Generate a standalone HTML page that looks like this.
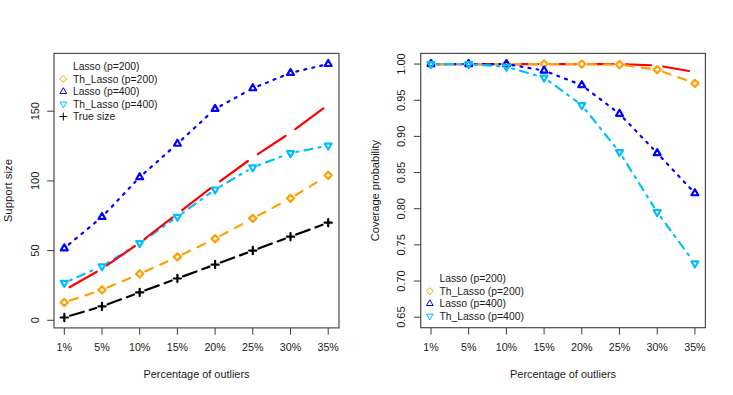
<!DOCTYPE html>
<html><head><meta charset="utf-8"><title>plot</title>
<style>
html,body{margin:0;padding:0;background:#fff;}
body{width:733px;height:395px;overflow:hidden;}
svg{display:block;font-family:"Liberation Sans",sans-serif;fill:#1a1a1a;}
</style></head><body>
<svg width="733" height="395" viewBox="0 0 733 395">
<rect width="733" height="395" fill="#ffffff"/>
<line x1="69.99" y1="300.56" x2="96.31" y2="291.81" stroke="#ffa000" stroke-width="2.2" stroke-linecap="round" stroke-dasharray="8.20,8.20"/>
<line x1="107.52" y1="287.56" x2="134.18" y2="276.23" stroke="#ffa000" stroke-width="2.2" stroke-linecap="round" stroke-dasharray="8.20,8.20"/>
<line x1="145.17" y1="271.41" x2="171.93" y2="259.34" stroke="#ffa000" stroke-width="2.2" stroke-linecap="round" stroke-dasharray="8.20,8.20"/>
<line x1="182.81" y1="254.27" x2="209.69" y2="241.35" stroke="#ffa000" stroke-width="2.2" stroke-linecap="round" stroke-dasharray="8.20,8.20"/>
<line x1="220.38" y1="235.90" x2="247.52" y2="221.25" stroke="#ffa000" stroke-width="2.2" stroke-linecap="round" stroke-dasharray="8.20,8.20"/>
<line x1="258.10" y1="215.58" x2="285.20" y2="201.14" stroke="#ffa000" stroke-width="2.2" stroke-linecap="round" stroke-dasharray="8.20,8.20"/>
<line x1="295.62" y1="195.20" x2="323.08" y2="178.45" stroke="#ffa000" stroke-width="2.2" stroke-linecap="round" stroke-dasharray="8.20,8.20"/>
<polygon points="60.67,302.46 64.30,306.09 67.93,302.46 64.30,298.82" fill="none" stroke="#ffa000" stroke-width="2.2" stroke-linejoin="round"/>
<polygon points="98.37,289.91 102.00,293.54 105.63,289.91 102.00,286.28" fill="none" stroke="#ffa000" stroke-width="2.2" stroke-linejoin="round"/>
<polygon points="136.07,273.88 139.70,277.51 143.33,273.88 139.70,270.25" fill="none" stroke="#ffa000" stroke-width="2.2" stroke-linejoin="round"/>
<polygon points="173.77,256.87 177.40,260.51 181.03,256.87 177.40,253.24" fill="none" stroke="#ffa000" stroke-width="2.2" stroke-linejoin="round"/>
<polygon points="211.47,238.75 215.10,242.38 218.73,238.75 215.10,235.12" fill="none" stroke="#ffa000" stroke-width="2.2" stroke-linejoin="round"/>
<polygon points="249.17,218.40 252.80,222.03 256.43,218.40 252.80,214.77" fill="none" stroke="#ffa000" stroke-width="2.2" stroke-linejoin="round"/>
<polygon points="286.87,198.33 290.50,201.96 294.13,198.33 290.50,194.69" fill="none" stroke="#ffa000" stroke-width="2.2" stroke-linejoin="round"/>
<polygon points="324.57,175.32 328.20,178.96 331.83,175.32 328.20,171.69" fill="none" stroke="#ffa000" stroke-width="2.2" stroke-linejoin="round"/>
<line x1="68.91" y1="244.46" x2="97.39" y2="220.77" stroke="#0000ff" stroke-width="2.2" stroke-linecap="round" stroke-dasharray="2.05,6.15"/>
<line x1="106.13" y1="212.58" x2="135.57" y2="181.56" stroke="#0000ff" stroke-width="2.2" stroke-linecap="round" stroke-dasharray="2.05,6.15"/>
<line x1="144.19" y1="173.22" x2="172.91" y2="147.73" stroke="#0000ff" stroke-width="2.2" stroke-linecap="round" stroke-dasharray="2.05,6.15"/>
<line x1="181.81" y1="139.68" x2="210.69" y2="112.97" stroke="#0000ff" stroke-width="2.2" stroke-linecap="round" stroke-dasharray="2.05,6.15"/>
<line x1="220.36" y1="106.02" x2="247.54" y2="91.15" stroke="#0000ff" stroke-width="2.2" stroke-linecap="round" stroke-dasharray="2.05,6.15"/>
<line x1="258.36" y1="86.01" x2="284.94" y2="75.20" stroke="#0000ff" stroke-width="2.2" stroke-linecap="round" stroke-dasharray="2.05,6.15"/>
<line x1="296.34" y1="71.55" x2="322.36" y2="65.39" stroke="#0000ff" stroke-width="2.2" stroke-linecap="round" stroke-dasharray="2.05,6.15"/>
<polygon points="64.30,244.31 67.76,250.30 60.84,250.30" fill="none" stroke="#0000ff" stroke-width="2.2" stroke-linejoin="round"/>
<polygon points="102.00,212.94 105.46,218.93 98.54,218.93" fill="none" stroke="#0000ff" stroke-width="2.2" stroke-linejoin="round"/>
<polygon points="139.70,173.21 143.16,179.20 136.24,179.20" fill="none" stroke="#0000ff" stroke-width="2.2" stroke-linejoin="round"/>
<polygon points="177.40,139.76 180.86,145.75 173.94,145.75" fill="none" stroke="#0000ff" stroke-width="2.2" stroke-linejoin="round"/>
<polygon points="215.10,104.91 218.56,110.90 211.64,110.90" fill="none" stroke="#0000ff" stroke-width="2.2" stroke-linejoin="round"/>
<polygon points="252.80,84.27 256.26,90.27 249.34,90.27" fill="none" stroke="#0000ff" stroke-width="2.2" stroke-linejoin="round"/>
<polygon points="290.50,68.94 293.96,74.93 287.04,74.93" fill="none" stroke="#0000ff" stroke-width="2.2" stroke-linejoin="round"/>
<polygon points="328.20,60.02 331.66,66.01 324.74,66.01" fill="none" stroke="#0000ff" stroke-width="2.2" stroke-linejoin="round"/>
<line x1="69.79" y1="280.45" x2="96.51" y2="268.70" stroke="#00bfff" stroke-width="2.2" stroke-linecap="round" stroke-dasharray="2.05,6.15,8.20,6.15"/>
<line x1="107.11" y1="263.14" x2="134.59" y2="246.28" stroke="#00bfff" stroke-width="2.2" stroke-linecap="round" stroke-dasharray="2.05,6.15,8.20,6.15"/>
<line x1="144.62" y1="239.71" x2="172.48" y2="220.23" stroke="#00bfff" stroke-width="2.2" stroke-linecap="round" stroke-dasharray="2.05,6.15,8.20,6.15"/>
<line x1="182.26" y1="213.27" x2="210.24" y2="192.99" stroke="#00bfff" stroke-width="2.2" stroke-linecap="round" stroke-dasharray="2.05,6.15,8.20,6.15"/>
<line x1="220.28" y1="186.45" x2="247.62" y2="170.47" stroke="#00bfff" stroke-width="2.2" stroke-linecap="round" stroke-dasharray="2.05,6.15,8.20,6.15"/>
<line x1="258.41" y1="165.31" x2="284.89" y2="155.23" stroke="#00bfff" stroke-width="2.2" stroke-linecap="round" stroke-dasharray="2.05,6.15,8.20,6.15"/>
<line x1="296.38" y1="151.91" x2="322.32" y2="146.74" stroke="#00bfff" stroke-width="2.2" stroke-linecap="round" stroke-dasharray="2.05,6.15,8.20,6.15"/>
<polygon points="64.30,286.87 67.76,280.87 60.84,280.87" fill="none" stroke="#00bfff" stroke-width="2.2" stroke-linejoin="round"/>
<polygon points="102.00,270.28 105.46,264.29 98.54,264.29" fill="none" stroke="#00bfff" stroke-width="2.2" stroke-linejoin="round"/>
<polygon points="139.70,247.14 143.16,241.14 136.24,241.14" fill="none" stroke="#00bfff" stroke-width="2.2" stroke-linejoin="round"/>
<polygon points="177.40,220.79 180.86,214.80 173.94,214.80" fill="none" stroke="#00bfff" stroke-width="2.2" stroke-linejoin="round"/>
<polygon points="215.10,193.47 218.56,187.48 211.64,187.48" fill="none" stroke="#00bfff" stroke-width="2.2" stroke-linejoin="round"/>
<polygon points="252.80,171.44 256.26,165.45 249.34,165.45" fill="none" stroke="#00bfff" stroke-width="2.2" stroke-linejoin="round"/>
<polygon points="290.50,157.08 293.96,151.09 287.04,151.09" fill="none" stroke="#00bfff" stroke-width="2.2" stroke-linejoin="round"/>
<polygon points="328.20,149.56 331.66,143.56 324.74,143.56" fill="none" stroke="#00bfff" stroke-width="2.2" stroke-linejoin="round"/>
<line x1="69.51" y1="287.22" x2="96.79" y2="271.69" stroke="#ff0000" stroke-width="2.2" stroke-linecap="round"/>
<line x1="106.94" y1="265.31" x2="134.76" y2="246.07" stroke="#ff0000" stroke-width="2.2" stroke-linecap="round"/>
<line x1="144.46" y1="239.00" x2="172.64" y2="217.32" stroke="#ff0000" stroke-width="2.2" stroke-linecap="round"/>
<line x1="182.16" y1="210.01" x2="210.34" y2="188.45" stroke="#ff0000" stroke-width="2.2" stroke-linecap="round"/>
<line x1="219.96" y1="181.28" x2="247.94" y2="161.00" stroke="#ff0000" stroke-width="2.2" stroke-linecap="round"/>
<line x1="257.81" y1="154.18" x2="285.49" y2="135.97" stroke="#ff0000" stroke-width="2.2" stroke-linecap="round"/>
<line x1="295.33" y1="129.11" x2="323.37" y2="108.48" stroke="#ff0000" stroke-width="2.2" stroke-linecap="round"/>
<line x1="70.05" y1="315.81" x2="96.25" y2="308.06" stroke="#000000" stroke-width="2.2" stroke-linecap="round" stroke-dasharray="14.35,6.15"/>
<line x1="107.63" y1="304.28" x2="134.07" y2="294.50" stroke="#000000" stroke-width="2.2" stroke-linecap="round" stroke-dasharray="14.35,6.15"/>
<line x1="145.33" y1="290.34" x2="171.77" y2="280.56" stroke="#000000" stroke-width="2.2" stroke-linecap="round" stroke-dasharray="14.35,6.15"/>
<line x1="183.03" y1="276.40" x2="209.47" y2="266.62" stroke="#000000" stroke-width="2.2" stroke-linecap="round" stroke-dasharray="14.35,6.15"/>
<line x1="220.73" y1="262.46" x2="247.17" y2="252.68" stroke="#000000" stroke-width="2.2" stroke-linecap="round" stroke-dasharray="14.35,6.15"/>
<line x1="258.43" y1="248.52" x2="284.87" y2="238.74" stroke="#000000" stroke-width="2.2" stroke-linecap="round" stroke-dasharray="14.35,6.15"/>
<line x1="296.13" y1="234.58" x2="322.57" y2="224.80" stroke="#000000" stroke-width="2.2" stroke-linecap="round" stroke-dasharray="14.35,6.15"/>
<path d="M60.67,317.51H67.93M64.30,313.88V321.14" fill="none" stroke="#000000" stroke-width="2.2" stroke-linecap="round"/>
<path d="M98.37,306.36H105.63M102.00,302.73V309.99" fill="none" stroke="#000000" stroke-width="2.2" stroke-linecap="round"/>
<path d="M136.07,292.42H143.33M139.70,288.79V296.05" fill="none" stroke="#000000" stroke-width="2.2" stroke-linecap="round"/>
<path d="M173.77,278.48H181.03M177.40,274.85V282.11" fill="none" stroke="#000000" stroke-width="2.2" stroke-linecap="round"/>
<path d="M211.47,264.54H218.73M215.10,260.91V268.17" fill="none" stroke="#000000" stroke-width="2.2" stroke-linecap="round"/>
<path d="M249.17,250.60H256.43M252.80,246.97V254.23" fill="none" stroke="#000000" stroke-width="2.2" stroke-linecap="round"/>
<path d="M286.87,236.66H294.13M290.50,233.03V240.29" fill="none" stroke="#000000" stroke-width="2.2" stroke-linecap="round"/>
<path d="M324.57,222.72H331.83M328.20,219.09V226.35" fill="none" stroke="#000000" stroke-width="2.2" stroke-linecap="round"/>
<rect x="54.00" y="53.40" width="285.00" height="274.50" fill="none" stroke="#4a4a4a" stroke-width="1.2"/>
<line x1="64.30" y1="327.90" x2="64.30" y2="334.70" stroke="#3a3a3a" stroke-width="1"/>
<text x="64.30" y="351.30" font-size="10.7" text-anchor="middle">1%</text>
<line x1="102.00" y1="327.90" x2="102.00" y2="334.70" stroke="#3a3a3a" stroke-width="1"/>
<text x="102.00" y="351.30" font-size="10.7" text-anchor="middle">5%</text>
<line x1="139.70" y1="327.90" x2="139.70" y2="334.70" stroke="#3a3a3a" stroke-width="1"/>
<text x="139.70" y="351.30" font-size="10.7" text-anchor="middle">10%</text>
<line x1="177.40" y1="327.90" x2="177.40" y2="334.70" stroke="#3a3a3a" stroke-width="1"/>
<text x="177.40" y="351.30" font-size="10.7" text-anchor="middle">15%</text>
<line x1="215.10" y1="327.90" x2="215.10" y2="334.70" stroke="#3a3a3a" stroke-width="1"/>
<text x="215.10" y="351.30" font-size="10.7" text-anchor="middle">20%</text>
<line x1="252.80" y1="327.90" x2="252.80" y2="334.70" stroke="#3a3a3a" stroke-width="1"/>
<text x="252.80" y="351.30" font-size="10.7" text-anchor="middle">25%</text>
<line x1="290.50" y1="327.90" x2="290.50" y2="334.70" stroke="#3a3a3a" stroke-width="1"/>
<text x="290.50" y="351.30" font-size="10.7" text-anchor="middle">30%</text>
<line x1="328.20" y1="327.90" x2="328.20" y2="334.70" stroke="#3a3a3a" stroke-width="1"/>
<text x="328.20" y="351.30" font-size="10.7" text-anchor="middle">35%</text>
<line x1="47.20" y1="320.30" x2="54.00" y2="320.30" stroke="#3a3a3a" stroke-width="1"/>
<text transform="translate(38.60,320.30) rotate(-90)" font-size="10.97" text-anchor="middle">0</text>
<line x1="47.20" y1="250.60" x2="54.00" y2="250.60" stroke="#3a3a3a" stroke-width="1"/>
<text transform="translate(38.60,250.60) rotate(-90)" font-size="10.97" text-anchor="middle">50</text>
<line x1="47.20" y1="180.90" x2="54.00" y2="180.90" stroke="#3a3a3a" stroke-width="1"/>
<text transform="translate(38.60,180.90) rotate(-90)" font-size="10.97" text-anchor="middle">100</text>
<line x1="47.20" y1="111.20" x2="54.00" y2="111.20" stroke="#3a3a3a" stroke-width="1"/>
<text transform="translate(38.60,111.20) rotate(-90)" font-size="10.97" text-anchor="middle">150</text>
<text x="196.50" y="377.6" font-size="10.9" text-anchor="middle">Percentage of outliers</text>
<text transform="translate(12.4,190.65) rotate(-90)" font-size="11.4" text-anchor="middle">Support size</text>
<text x="72.90" y="70.00" font-size="10.38">Lasso (p=200)</text>
<polygon points="59.80,79.02 63.30,82.52 66.80,79.02 63.30,75.52" fill="none" stroke="#ffa000" stroke-width="1.0" stroke-linejoin="round"/>
<text x="72.90" y="82.52" font-size="10.38">Th_Lasso (p=200)</text>
<polygon points="63.30,87.69 66.63,93.46 59.97,93.46" fill="none" stroke="#0000ff" stroke-width="1.0" stroke-linejoin="round"/>
<text x="72.90" y="95.04" font-size="10.38">Lasso (p=400)</text>
<polygon points="63.30,107.91 66.63,102.14 59.97,102.14" fill="none" stroke="#00bfff" stroke-width="1.0" stroke-linejoin="round"/>
<text x="72.90" y="107.56" font-size="10.38">Th_Lasso (p=400)</text>
<path d="M59.80,116.58H66.80M63.30,113.08V120.08" fill="none" stroke="#000000" stroke-width="1.0" stroke-linecap="round"/>
<text x="72.90" y="120.08" font-size="10.38">True size</text>
<line x1="437.00" y1="64.05" x2="462.70" y2="64.05" stroke="#ff0000" stroke-width="2.2" stroke-linecap="round"/>
<line x1="474.70" y1="64.05" x2="500.40" y2="64.05" stroke="#ff0000" stroke-width="2.2" stroke-linecap="round"/>
<line x1="512.40" y1="64.05" x2="538.10" y2="64.05" stroke="#ff0000" stroke-width="2.2" stroke-linecap="round"/>
<line x1="550.10" y1="64.05" x2="575.80" y2="64.05" stroke="#ff0000" stroke-width="2.2" stroke-linecap="round"/>
<line x1="587.80" y1="64.05" x2="613.50" y2="64.05" stroke="#ff0000" stroke-width="2.2" stroke-linecap="round"/>
<line x1="625.50" y1="64.28" x2="651.20" y2="65.27" stroke="#ff0000" stroke-width="2.2" stroke-linecap="round"/>
<line x1="663.11" y1="66.52" x2="688.99" y2="70.99" stroke="#ff0000" stroke-width="2.2" stroke-linecap="round"/>
<line x1="437.00" y1="64.05" x2="462.70" y2="64.05" stroke="#ffa000" stroke-width="2.2" stroke-linecap="round" stroke-dasharray="8.20,8.20"/>
<line x1="474.70" y1="64.05" x2="500.40" y2="64.05" stroke="#ffa000" stroke-width="2.2" stroke-linecap="round" stroke-dasharray="8.20,8.20"/>
<line x1="512.40" y1="64.05" x2="538.10" y2="64.05" stroke="#ffa000" stroke-width="2.2" stroke-linecap="round" stroke-dasharray="8.20,8.20"/>
<line x1="550.10" y1="64.05" x2="575.80" y2="64.05" stroke="#ffa000" stroke-width="2.2" stroke-linecap="round" stroke-dasharray="8.20,8.20"/>
<line x1="587.80" y1="64.14" x2="613.50" y2="64.54" stroke="#ffa000" stroke-width="2.2" stroke-linecap="round" stroke-dasharray="8.20,8.20"/>
<line x1="625.45" y1="65.42" x2="651.25" y2="68.83" stroke="#ffa000" stroke-width="2.2" stroke-linecap="round" stroke-dasharray="8.20,8.20"/>
<line x1="662.84" y1="71.66" x2="689.26" y2="81.24" stroke="#ffa000" stroke-width="2.2" stroke-linecap="round" stroke-dasharray="8.20,8.20"/>
<polygon points="427.37,64.05 431.00,67.68 434.63,64.05 431.00,60.42" fill="none" stroke="#ffa000" stroke-width="2.2" stroke-linejoin="round"/>
<polygon points="465.07,64.05 468.70,67.68 472.33,64.05 468.70,60.42" fill="none" stroke="#ffa000" stroke-width="2.2" stroke-linejoin="round"/>
<polygon points="502.77,64.05 506.40,67.68 510.03,64.05 506.40,60.42" fill="none" stroke="#ffa000" stroke-width="2.2" stroke-linejoin="round"/>
<polygon points="540.47,64.05 544.10,67.68 547.73,64.05 544.10,60.42" fill="none" stroke="#ffa000" stroke-width="2.2" stroke-linejoin="round"/>
<polygon points="578.17,64.05 581.80,67.68 585.43,64.05 581.80,60.42" fill="none" stroke="#ffa000" stroke-width="2.2" stroke-linejoin="round"/>
<polygon points="615.87,64.63 619.50,68.26 623.13,64.63 619.50,61.00" fill="none" stroke="#ffa000" stroke-width="2.2" stroke-linejoin="round"/>
<polygon points="653.57,69.62 657.20,73.25 660.83,69.62 657.20,65.99" fill="none" stroke="#ffa000" stroke-width="2.2" stroke-linejoin="round"/>
<polygon points="691.27,83.29 694.90,86.92 698.53,83.29 694.90,79.66" fill="none" stroke="#ffa000" stroke-width="2.2" stroke-linejoin="round"/>
<line x1="437.00" y1="64.05" x2="462.70" y2="64.05" stroke="#0000ff" stroke-width="2.2" stroke-linecap="round" stroke-dasharray="2.05,6.15"/>
<line x1="474.70" y1="64.05" x2="500.40" y2="64.05" stroke="#0000ff" stroke-width="2.2" stroke-linecap="round" stroke-dasharray="2.05,6.15"/>
<line x1="512.31" y1="65.07" x2="538.19" y2="69.54" stroke="#0000ff" stroke-width="2.2" stroke-linecap="round" stroke-dasharray="2.05,6.15"/>
<line x1="549.69" y1="72.73" x2="576.21" y2="83.00" stroke="#0000ff" stroke-width="2.2" stroke-linecap="round" stroke-dasharray="2.05,6.15"/>
<line x1="586.58" y1="88.80" x2="614.72" y2="110.18" stroke="#0000ff" stroke-width="2.2" stroke-linecap="round" stroke-dasharray="2.05,6.15"/>
<line x1="623.65" y1="118.15" x2="653.05" y2="148.83" stroke="#0000ff" stroke-width="2.2" stroke-linecap="round" stroke-dasharray="2.05,6.15"/>
<line x1="661.31" y1="157.53" x2="690.79" y2="188.86" stroke="#0000ff" stroke-width="2.2" stroke-linecap="round" stroke-dasharray="2.05,6.15"/>
<polygon points="431.00,60.06 434.46,66.05 427.54,66.05" fill="none" stroke="#0000ff" stroke-width="2.2" stroke-linejoin="round"/>
<polygon points="468.70,60.06 472.16,66.05 465.24,66.05" fill="none" stroke="#0000ff" stroke-width="2.2" stroke-linejoin="round"/>
<polygon points="506.40,60.06 509.86,66.05 502.94,66.05" fill="none" stroke="#0000ff" stroke-width="2.2" stroke-linejoin="round"/>
<polygon points="544.10,66.56 547.56,72.56 540.64,72.56" fill="none" stroke="#0000ff" stroke-width="2.2" stroke-linejoin="round"/>
<polygon points="581.80,81.18 585.26,87.17 578.34,87.17" fill="none" stroke="#0000ff" stroke-width="2.2" stroke-linejoin="round"/>
<polygon points="619.50,109.82 622.96,115.81 616.04,115.81" fill="none" stroke="#0000ff" stroke-width="2.2" stroke-linejoin="round"/>
<polygon points="657.20,149.17 660.66,155.16 653.74,155.16" fill="none" stroke="#0000ff" stroke-width="2.2" stroke-linejoin="round"/>
<polygon points="694.90,189.24 698.36,195.23 691.44,195.23" fill="none" stroke="#0000ff" stroke-width="2.2" stroke-linejoin="round"/>
<line x1="437.00" y1="64.05" x2="462.70" y2="64.05" stroke="#00bfff" stroke-width="2.2" stroke-linecap="round" stroke-dasharray="2.05,6.15,8.20,6.15"/>
<line x1="474.68" y1="64.49" x2="500.42" y2="66.36" stroke="#00bfff" stroke-width="2.2" stroke-linecap="round" stroke-dasharray="2.05,6.15,8.20,6.15"/>
<line x1="512.17" y1="68.45" x2="538.33" y2="75.93" stroke="#00bfff" stroke-width="2.2" stroke-linecap="round" stroke-dasharray="2.05,6.15,8.20,6.15"/>
<line x1="548.94" y1="81.12" x2="576.96" y2="101.66" stroke="#00bfff" stroke-width="2.2" stroke-linecap="round" stroke-dasharray="2.05,6.15,8.20,6.15"/>
<line x1="585.56" y1="109.88" x2="615.74" y2="147.40" stroke="#00bfff" stroke-width="2.2" stroke-linecap="round" stroke-dasharray="2.05,6.15,8.20,6.15"/>
<line x1="622.69" y1="157.16" x2="654.01" y2="207.10" stroke="#00bfff" stroke-width="2.2" stroke-linecap="round" stroke-dasharray="2.05,6.15,8.20,6.15"/>
<line x1="660.75" y1="217.02" x2="691.35" y2="258.63" stroke="#00bfff" stroke-width="2.2" stroke-linecap="round" stroke-dasharray="2.05,6.15,8.20,6.15"/>
<polygon points="431.00,68.04 434.46,62.05 427.54,62.05" fill="none" stroke="#00bfff" stroke-width="2.2" stroke-linejoin="round"/>
<polygon points="468.70,68.04 472.16,62.05 465.24,62.05" fill="none" stroke="#00bfff" stroke-width="2.2" stroke-linejoin="round"/>
<polygon points="506.40,70.79 509.86,64.80 502.94,64.80" fill="none" stroke="#00bfff" stroke-width="2.2" stroke-linejoin="round"/>
<polygon points="544.10,81.57 547.56,75.58 540.64,75.58" fill="none" stroke="#00bfff" stroke-width="2.2" stroke-linejoin="round"/>
<polygon points="581.80,109.20 585.26,103.21 578.34,103.21" fill="none" stroke="#00bfff" stroke-width="2.2" stroke-linejoin="round"/>
<polygon points="619.50,156.07 622.96,150.08 616.04,150.08" fill="none" stroke="#00bfff" stroke-width="2.2" stroke-linejoin="round"/>
<polygon points="657.20,216.18 660.66,210.18 653.74,210.18" fill="none" stroke="#00bfff" stroke-width="2.2" stroke-linejoin="round"/>
<polygon points="694.90,267.46 698.36,261.47 691.44,261.47" fill="none" stroke="#00bfff" stroke-width="2.2" stroke-linejoin="round"/>
<rect x="420.70" y="53.40" width="284.70" height="274.30" fill="none" stroke="#4a4a4a" stroke-width="1.2"/>
<line x1="431.00" y1="327.70" x2="431.00" y2="334.50" stroke="#3a3a3a" stroke-width="1"/>
<text x="431.00" y="351.30" font-size="10.7" text-anchor="middle">1%</text>
<line x1="468.70" y1="327.70" x2="468.70" y2="334.50" stroke="#3a3a3a" stroke-width="1"/>
<text x="468.70" y="351.30" font-size="10.7" text-anchor="middle">5%</text>
<line x1="506.40" y1="327.70" x2="506.40" y2="334.50" stroke="#3a3a3a" stroke-width="1"/>
<text x="506.40" y="351.30" font-size="10.7" text-anchor="middle">10%</text>
<line x1="544.10" y1="327.70" x2="544.10" y2="334.50" stroke="#3a3a3a" stroke-width="1"/>
<text x="544.10" y="351.30" font-size="10.7" text-anchor="middle">15%</text>
<line x1="581.80" y1="327.70" x2="581.80" y2="334.50" stroke="#3a3a3a" stroke-width="1"/>
<text x="581.80" y="351.30" font-size="10.7" text-anchor="middle">20%</text>
<line x1="619.50" y1="327.70" x2="619.50" y2="334.50" stroke="#3a3a3a" stroke-width="1"/>
<text x="619.50" y="351.30" font-size="10.7" text-anchor="middle">25%</text>
<line x1="657.20" y1="327.70" x2="657.20" y2="334.50" stroke="#3a3a3a" stroke-width="1"/>
<text x="657.20" y="351.30" font-size="10.7" text-anchor="middle">30%</text>
<line x1="694.90" y1="327.70" x2="694.90" y2="334.50" stroke="#3a3a3a" stroke-width="1"/>
<text x="694.90" y="351.30" font-size="10.7" text-anchor="middle">35%</text>
<line x1="413.90" y1="317.20" x2="420.70" y2="317.20" stroke="#3a3a3a" stroke-width="1"/>
<text transform="translate(405.30,317.20) rotate(-90)" font-size="10.97" text-anchor="middle">0.65</text>
<line x1="413.90" y1="281.04" x2="420.70" y2="281.04" stroke="#3a3a3a" stroke-width="1"/>
<text transform="translate(405.30,281.04) rotate(-90)" font-size="10.97" text-anchor="middle">0.70</text>
<line x1="413.90" y1="244.88" x2="420.70" y2="244.88" stroke="#3a3a3a" stroke-width="1"/>
<text transform="translate(405.30,244.88) rotate(-90)" font-size="10.97" text-anchor="middle">0.75</text>
<line x1="413.90" y1="208.71" x2="420.70" y2="208.71" stroke="#3a3a3a" stroke-width="1"/>
<text transform="translate(405.30,208.71) rotate(-90)" font-size="10.97" text-anchor="middle">0.80</text>
<line x1="413.90" y1="172.55" x2="420.70" y2="172.55" stroke="#3a3a3a" stroke-width="1"/>
<text transform="translate(405.30,172.55) rotate(-90)" font-size="10.97" text-anchor="middle">0.85</text>
<line x1="413.90" y1="136.38" x2="420.70" y2="136.38" stroke="#3a3a3a" stroke-width="1"/>
<text transform="translate(405.30,136.38) rotate(-90)" font-size="10.97" text-anchor="middle">0.90</text>
<line x1="413.90" y1="100.22" x2="420.70" y2="100.22" stroke="#3a3a3a" stroke-width="1"/>
<text transform="translate(405.30,100.22) rotate(-90)" font-size="10.97" text-anchor="middle">0.95</text>
<line x1="413.90" y1="64.05" x2="420.70" y2="64.05" stroke="#3a3a3a" stroke-width="1"/>
<text transform="translate(405.30,64.05) rotate(-90)" font-size="10.97" text-anchor="middle">1.00</text>
<text x="563.05" y="377.6" font-size="10.9" text-anchor="middle">Percentage of outliers</text>
<text transform="translate(379,190.55) rotate(-90)" font-size="11.05" text-anchor="middle">Coverage probability</text>
<text x="439.40" y="282.20" font-size="10.38">Lasso (p=200)</text>
<polygon points="426.30,291.15 429.80,294.65 433.30,291.15 429.80,287.65" fill="none" stroke="#ffa000" stroke-width="1.0" stroke-linejoin="round"/>
<text x="439.40" y="294.65" font-size="10.38">Th_Lasso (p=200)</text>
<polygon points="429.80,299.75 433.13,305.52 426.47,305.52" fill="none" stroke="#0000ff" stroke-width="1.0" stroke-linejoin="round"/>
<text x="439.40" y="307.10" font-size="10.38">Lasso (p=400)</text>
<polygon points="429.80,319.90 433.13,314.13 426.47,314.13" fill="none" stroke="#00bfff" stroke-width="1.0" stroke-linejoin="round"/>
<text x="439.40" y="319.55" font-size="10.38">Th_Lasso (p=400)</text>
</svg>
</body></html>
